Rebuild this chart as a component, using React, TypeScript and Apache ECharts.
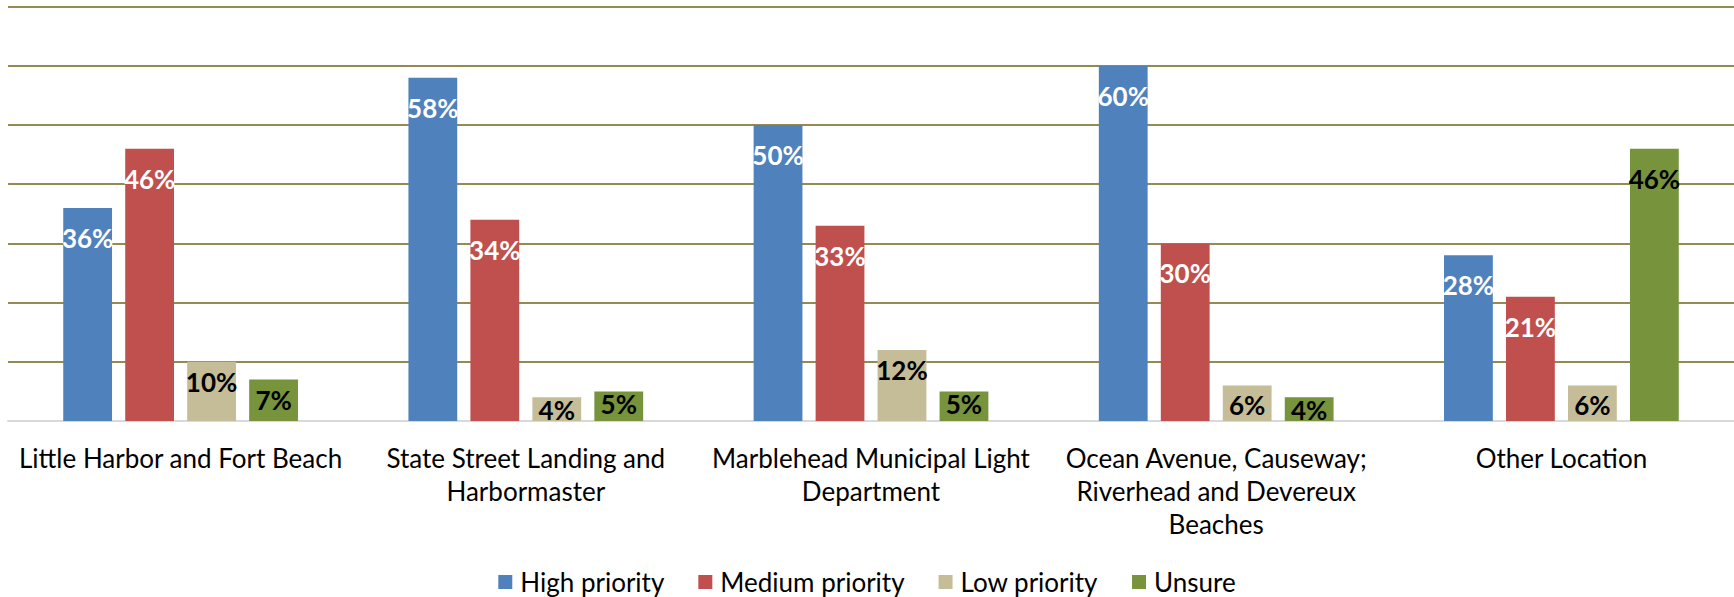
import React, { useEffect, useRef } from "react";
import * as echarts from "echarts";

const categories = [
  "Little Harbor and Fort Beach",
  "State Street Landing and\nHarbormaster",
  "Marblehead Municipal Light\nDepartment",
  "Ocean Avenue, Causeway;\nRiverhead and Devereux\nBeaches",
  "Other Location",
];
const highPriority = [36, 58, 50, 60, 28];
const mediumPriority = [46, 34, 33, 30, 21];
const lowPriority = [10, 4, 12, 6, 6];
const unsure = [7, 5, 5, 4, 46];
const seriesNames = ["High priority", "Medium priority", "Low priority", "Unsure"];
const colors = ["#4f81bd", "#c0504d", "#c4bd97", "#77933c"];
const labelColors = ["#ffffff", "#ffffff", "#000000", "#000000"];
const yMax = 70;
const yStep = 10;

const FONT = "Lato, 'Open Sans', sans-serif";
const GRID_COLOR = "#948a54";

export default function App() {
  const ref = useRef<HTMLDivElement>(null);
  useEffect(() => {
    if (!ref.current) return;
    const chart = echarts.init(ref.current, null, { renderer: "svg" });
    const allData = [highPriority, mediumPriority, lowPriority, unsure];
    const series: any[] = allData.map((arr, i) => ({
      name: seriesNames[i],
      type: "bar",
      barGap: "27%",
      barCategoryGap: "32%",
      itemStyle: { color: colors[i] },
      data: arr.map((v) => ({
        value: v,
        label: { distance: v <= 5 ? 0 : v < 20 ? 7 : 17 },
      })),
      label: {
        show: true,
        position: "insideTop",
        formatter: (p: any) => `${p.value}%`,
        color: labelColors[i],
        fontFamily: FONT,
        fontWeight: "bold",
        fontSize: 26,
      },
    }));
    chart.setOption({
      animation: false,
      color: colors,
      grid: { left: 8, right: 0, top: 6.6, bottom: 176, containLabel: false },
      xAxis: {
        type: "category",
        data: categories,
        axisLine: { show: true, lineStyle: { color: "#d9d9d9", width: 2 } },
        axisTick: { show: false },
        axisLabel: {
          interval: 0,
          margin: 20,
          fontFamily: FONT,
          fontSize: 26,
          lineHeight: 33,
          color: "#000000",
        },
      },
      yAxis: {
        type: "value",
        min: 0,
        max: yMax,
        interval: yStep,
        axisLabel: { show: false },
        axisLine: { show: false },
        axisTick: { show: false },
        splitLine: {
          show: true,
          lineStyle: { color: GRID_COLOR, width: 2 },
        },
      },
      legend: {
        top: 567,
        left: "center",
        padding: 0,
        itemWidth: 14,
        itemHeight: 14,
        itemGap: 34,
        icon: "rect",
        textStyle: {
          fontFamily: FONT,
          fontSize: 26,
          lineHeight: 30,
          color: "#000000",
          padding: [0, 0, 0, 3],
        },
        data: seriesNames,
      },
      series,
    });
    return () => chart.dispose();
  }, []);
  return (
    <div
      ref={ref}
      style={{ position: "fixed", top: 0, left: 0, width: 1734, height: 597, background: "#ffffff" }}
    />
  );
}
